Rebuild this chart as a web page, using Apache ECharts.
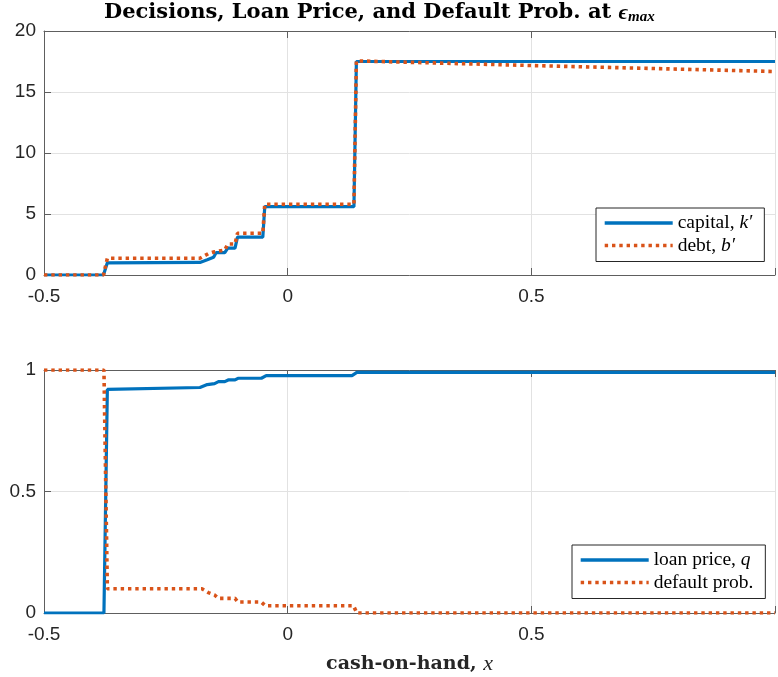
<!DOCTYPE html>
<html>
<head>
<meta charset="utf-8">
<script src="https://cdn.jsdelivr.net/npm/echarts@6/dist/echarts.min.js"></script>
<style>
html,body{margin:0;padding:0;background:#fff;}
#c{width:778px;height:677px;}
</style>
</head>
<body>
<div id="c"></div>
<script>
// ---- data ----
var xTicks = [-0.5, 0, 0.5, 1];
var topYTicks = [0, 5, 10, 15, 20];
var botYTicks = [0, 0.5, 1];

// capital, k'
var kX = [-0.5, -0.378, -0.370, -0.18, -0.165, -0.152, -0.147, -0.129, -0.123, -0.108, -0.103, -0.051, -0.047, 0.136, 0.141, 1.0];
var kY = [0, 0, 1.0, 1.03, 1.25, 1.45, 1.83, 1.83, 2.2, 2.2, 3.1, 3.1, 5.6, 5.6, 17.5, 17.5];
// debt, b'
var bX = [-0.5, -0.378, -0.370, -0.18, -0.163, -0.15, -0.146, -0.129, -0.123, -0.108, -0.103, -0.051, -0.047, 0.136, 0.141, 0.5, 1.0];
var bY = [0, 0, 1.37, 1.37, 1.75, 1.9, 2.05, 2.05, 2.54, 2.54, 3.42, 3.42, 5.8, 5.8, 17.55, 17.17, 16.68];
// loan price, q
var qX = [-0.5, -0.377, -0.370, -0.18, -0.165, -0.15, -0.142, -0.129, -0.122, -0.108, -0.102, -0.054, -0.044, 0.132, 0.142, 1.0];
var qY = [0, 0, 0.92, 0.928, 0.94, 0.944, 0.952, 0.952, 0.959, 0.959, 0.966, 0.966, 0.977, 0.977, 0.99, 0.99];
// default prob.
var dX = [-0.5, -0.377, -0.370, -0.176, -0.163, -0.15, -0.142, -0.108, -0.102, -0.054, -0.046, 0.135, 0.142, 1.0];
var dY = [1, 1, 0.1, 0.1, 0.084, 0.074, 0.06, 0.06, 0.045, 0.045, 0.03, 0.03, 0.0, 0.0];

function zip(xs, ys) { return xs.map(function (x, i) { return [x, ys[i]]; }); }

var BLUE = '#0072BD', ORANGE = '#D95319';
var AX = '#5e5e5e', TXT = '#262626', GRIDC = '#e2e2e2';
var SANS = 'Liberation Sans', SERIF = 'Liberation Serif';

function xAxisBottom(gi, withName) {
  var o = {
    type: 'value', gridIndex: gi, min: xTicks[0], max: xTicks[xTicks.length - 1], interval: 0.5,
    axisLine: { show: true, onZero: false, lineStyle: { color: AX, width: 1 } },
    axisTick: { show: true, inside: true, length: 7, lineStyle: { color: AX } },
    axisLabel: { color: TXT, fontFamily: SANS, fontSize: 19, margin: 12,
      formatter: function (v) { return v >= 1 ? '' : String(v); } },
    splitLine: { show: true, lineStyle: { color: GRIDC, width: 1 } }
  };
  if (withName) {
    o.name = '{b|cash-on-hand, }{i|x}';
    o.nameLocation = 'middle';
    o.nameGap = 40;
    o.nameTextStyle = { rich: {
      b: { fontFamily: 'DejaVu Serif', fontWeight: 'bold', fontSize: 19, color: TXT },
      i: { fontFamily: SERIF, fontStyle: 'italic', fontSize: 22, color: TXT }
    } };
  }
  return o;
}
function xAxisTop(gi) {
  return {
    type: 'value', gridIndex: gi, position: 'top', min: xTicks[0], max: xTicks[xTicks.length - 1], interval: 0.5,
    axisLine: { show: true, onZero: false, lineStyle: { color: AX, width: 1 } },
    axisTick: { show: true, inside: true, length: 7, lineStyle: { color: AX } },
    axisLabel: { show: false }, splitLine: { show: false }
  };
}
function yAxisLeft(gi, ticks, interval) {
  return {
    type: 'value', gridIndex: gi, min: ticks[0], max: ticks[ticks.length - 1], interval: interval,
    axisLine: { show: true, onZero: false, lineStyle: { color: AX, width: 1 } },
    axisTick: { show: true, inside: true, length: 7, lineStyle: { color: AX } },
    axisLabel: { color: TXT, fontFamily: SANS, fontSize: 19, margin: 8 },
    splitLine: { show: true, lineStyle: { color: GRIDC, width: 1 } }
  };
}

var legendRich = {
  t: { fontFamily: SERIF, fontSize: 19.5, color: '#000' },
  m: { fontFamily: SERIF, fontStyle: 'italic', fontSize: 19.5, color: '#000' }
};
var legendLabel = {
  'capital, k′': '{t|capital, }{m|k′}',
  'debt, b′': '{t|debt, }{m|b′}',
  'loan price, q': '{t|loan price, }{m|q}',
  'default prob.': '{t|default prob.}'
};
function legend(names, left, top) {
  return {
    data: names, orient: 'vertical', left: left, top: top,
    itemWidth: 68, itemHeight: 20, itemGap: 2.5, itemStyle: { opacity: 0 },
    lineStyle: { width: 3.4 },
    padding: [5, 12, 6, 7],
    borderColor: '#262626', borderWidth: 1, backgroundColor: '#fff',
    selectedMode: false,
    textStyle: { rich: legendRich, lineHeight: 20 },
    formatter: function (n) { return legendLabel[n]; }
  };
}

var chart = echarts.init(document.getElementById('c'), null, { renderer: 'canvas' });
chart.setOption({
  animation: false,
  backgroundColor: '#fff',
  title: {
    text: '{b|Decisions, Loan Price, and Default Prob. at }{e|ϵ}{s|max}',
    left: 104, top: 1, padding: 0,
    textStyle: { rich: {
      b: { fontFamily: 'DejaVu Serif', fontWeight: 'bold', fontSize: 21, color: '#000', lineHeight: 24 },
      e: { fontFamily: SERIF, fontStyle: 'italic', fontSize: 22, color: '#000', lineHeight: 24 },
      s: { fontFamily: SERIF, fontStyle: 'italic', fontSize: 15, color: '#000', lineHeight: 24, padding: [9, 0, 0, 0] }
    } }
  },
  grid: [
    { left: 44, top: 31, width: 738, height: 244 },
    { left: 44, top: 370, width: 738, height: 243 }
  ],
  xAxis: [xAxisBottom(0, false), xAxisBottom(1, true), xAxisTop(0), xAxisTop(1)],
  yAxis: [yAxisLeft(0, topYTicks, 5), yAxisLeft(1, botYTicks, 0.5)],
  legend: [
    legend(['capital, k′', 'debt, b′'], 596, 208),
    legend(['loan price, q', 'default prob.'], 572, 545)
  ],
  series: [
    { name: 'capital, k′', type: 'line', xAxisIndex: 0, yAxisIndex: 0, symbol: 'none',
      data: zip(kX, kY), lineStyle: { color: BLUE, width: 3.2 }, itemStyle: { color: BLUE } },
    { name: 'debt, b′', type: 'line', xAxisIndex: 0, yAxisIndex: 0, symbol: 'none',
      data: zip(bX, bY), lineStyle: { color: ORANGE, width: 3.6, type: [3.4, 3.9], cap: 'butt' }, itemStyle: { color: ORANGE } },
    { name: 'loan price, q', type: 'line', xAxisIndex: 1, yAxisIndex: 1, symbol: 'none',
      data: zip(qX, qY), lineStyle: { color: BLUE, width: 3.2 }, itemStyle: { color: BLUE } },
    { name: 'default prob.', type: 'line', xAxisIndex: 1, yAxisIndex: 1, symbol: 'none',
      data: zip(dX, dY), lineStyle: { color: ORANGE, width: 3.6, type: [3.4, 3.9], cap: 'butt' }, itemStyle: { color: ORANGE } }
  ]
});
</script>
</body>
</html>
